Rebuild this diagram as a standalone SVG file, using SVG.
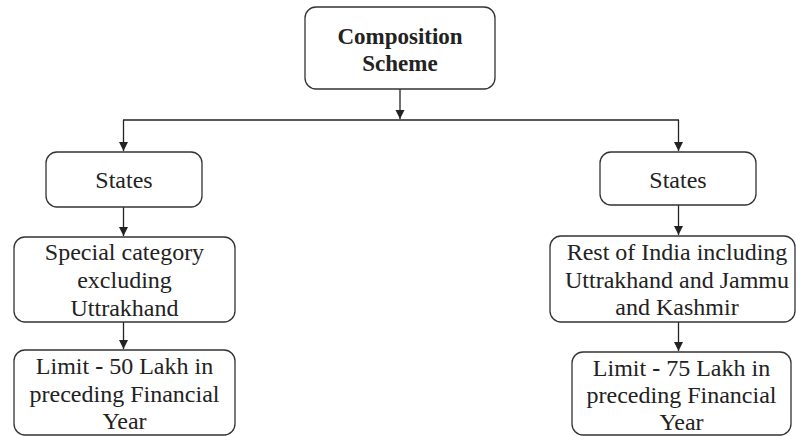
<svg xmlns="http://www.w3.org/2000/svg" width="796" height="436" viewBox="0 0 796 436">
  <defs>
    <marker id="arrow" markerWidth="10" markerHeight="12" refX="9" refY="5" orient="auto" markerUnits="userSpaceOnUse">
      <path d="M0,0.5 L9,5 L0,9.5 Z" fill="#222"/>
    </marker>
    <style>
      .box { fill: #fff; stroke: #333; stroke-width: 1.3; }
      .lbl { font-family: "Liberation Serif", "Times New Roman", serif; font-size: 24px; fill: #222; text-anchor: middle; }
      .ttl { font-family: "Liberation Serif", "Times New Roman", serif; font-size: 23px; font-weight: bold; fill: #222; text-anchor: middle; }
      .dash { font-weight: bold; }
      .conn { fill: none; stroke: #222; stroke-width: 1.3; }
    </style>
  </defs>
  <rect width="796" height="436" fill="#fff"/>

  <g id="connectors">
    <line class="conn" x1="400" y1="89" x2="400" y2="119" marker-end="url(#arrow)"/>
    <line class="conn" x1="123" y1="120" x2="679" y2="120"/>
    <line class="conn" x1="123.5" y1="120" x2="123.5" y2="151" marker-end="url(#arrow)"/>
    <line class="conn" x1="678.5" y1="120" x2="678.5" y2="151" marker-end="url(#arrow)"/>
    <line class="conn" x1="123.5" y1="207" x2="123.5" y2="236" marker-end="url(#arrow)"/>
    <line class="conn" x1="678.5" y1="205" x2="678.5" y2="235" marker-end="url(#arrow)"/>
    <line class="conn" x1="123.5" y1="322" x2="123.5" y2="349" marker-end="url(#arrow)"/>
    <line class="conn" x1="678.5" y1="322" x2="678.5" y2="351" marker-end="url(#arrow)"/>
  </g>

  <g id="composition-scheme">
    <rect class="box" x="305" y="7" width="190" height="82" rx="11"/>
    <text class="ttl" x="400" y="44">Composition</text>
    <text class="ttl" x="400" y="71">Scheme</text>
  </g>

  <g id="states-left">
    <rect class="box" x="46" y="152" width="156" height="55" rx="11"/>
    <text class="lbl" x="124" y="188">States</text>
  </g>

  <g id="special-category">
    <rect class="box" x="14" y="237" width="221" height="85" rx="11"/>
    <text class="lbl" x="124.5" y="260">Special category</text>
    <text class="lbl" x="124.5" y="288">excluding</text>
    <text class="lbl" x="124.5" y="316">Uttrakhand</text>
  </g>

  <g id="limit-left">
    <rect class="box" x="14" y="350" width="221" height="85" rx="11"/>
    <text class="lbl" x="124.5" y="374">Limit <tspan class="dash">-</tspan> 50 Lakh in</text>
    <text class="lbl" x="124.5" y="402">preceding Financial</text>
    <text class="lbl" x="124.5" y="429">Year</text>
  </g>

  <g id="states-right">
    <rect class="box" x="600" y="152" width="156" height="53" rx="11"/>
    <text class="lbl" x="678" y="188">States</text>
  </g>

  <g id="rest-of-india">
    <rect class="box" x="550" y="236" width="245" height="86" rx="11"/>
    <text class="lbl" x="677" y="260">Rest of India including</text>
    <text class="lbl" x="677" y="288">Uttrakhand and Jammu</text>
    <text class="lbl" x="677" y="315">and Kashmir</text>
  </g>

  <g id="limit-right">
    <rect class="box" x="572" y="352" width="219" height="83" rx="11"/>
    <text class="lbl" x="681.5" y="376">Limit <tspan class="dash">-</tspan> 75 Lakh in</text>
    <text class="lbl" x="681.5" y="403">preceding Financial</text>
    <text class="lbl" x="681.5" y="430">Year</text>
  </g>
</svg>
